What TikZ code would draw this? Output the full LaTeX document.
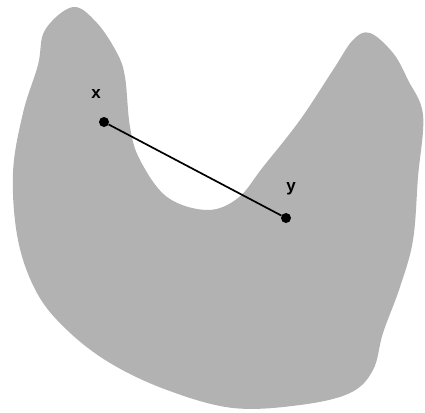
\documentclass[tikz,border=0pt]{standalone}
\usepackage{fontspec}
\setsansfont{Liberation Sans}
\begin{document}
\begin{tikzpicture}[x=1pt,y=-1pt]
\tikzset{dot/.style={circle,fill=black,inner sep=0pt,minimum size=10pt},
  lbl/.style={font=\sffamily\bfseries\fontsize{17}{19}\selectfont,inner sep=0pt}}
\useasboundingbox (0,0) rectangle (425,412);
\fill[black!30] plot[smooth cycle,tension=0.6] coordinates {
  (73,7) (45,30) (38,65) (23,113) (13,173) (18,240) (37,293) (67,330)
  (110,363) (167,390) (233,408) (300,405) (350,393) (373,370) (383,333)
  (400,287) (413,240) (418,177) (423,115) (408,80) (393,53) (370,33)
  (353,40) (333,70) (300,120) (263,167) (238,198) (207,210) (167,197)
  (140,160) (130,127) (125,77) (117,53) (97,23)};
\node[dot] (x) at (104,122) {};
\node[dot] (y) at (286,218) {};
\draw[line width=1.7pt] (x) -- (y);
\node[lbl] (lx) at (96,94) {x};
\node[lbl] (ly) at (291,189) {y};
\end{tikzpicture}
\end{document}
